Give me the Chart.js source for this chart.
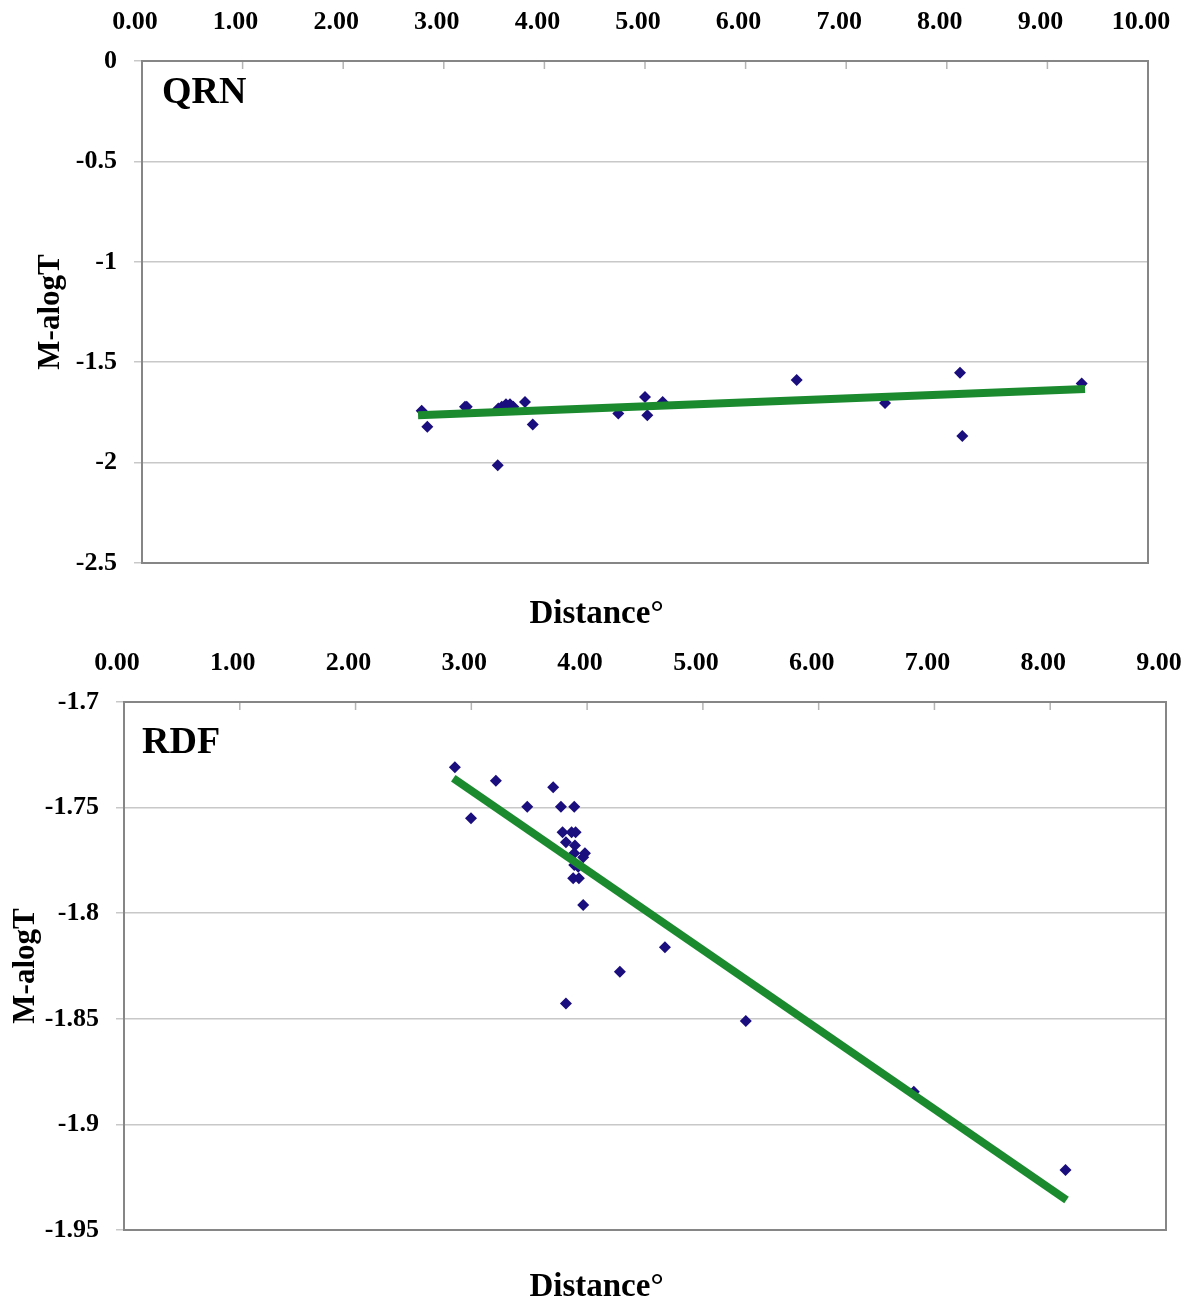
<!DOCTYPE html>
<html lang="en">
<head>
<meta charset="UTF-8">
<title>M-alogT vs Distance - QRN / RDF</title>
<script src="https://cdn.jsdelivr.net/npm/chart.js@4.4.1/dist/chart.umd.min.js"></script>
<style>
  html, body { margin: 0; padding: 0; background: #fff; }
  .panel { position: absolute; left: 0; width: 1193px; }
  #qrnBox { top: 0; height: 631px; }
  #rdfBox { top: 631px; height: 673px; }
</style>
</head>
<body>
<div class="panel" id="qrnBox"><canvas id="qrnChart"></canvas></div>
<div class="panel" id="rdfBox"><canvas id="rdfChart"></canvas></div>
<script>
// QRN station
const qrnDistance = [2.780, 2.836, 3.211, 3.228, 3.542, 3.576, 3.618, 3.658, 3.691, 3.807, 3.884,
                     3.536, 4.735, 5.000, 5.023, 5.176, 6.508, 7.386, 8.131, 8.154, 9.341];
const qrnMalogT = [-1.742, -1.822, -1.722, -1.722, -1.730, -1.722, -1.710, -1.710, -1.722, -1.698, -1.810,
                   -2.013, -1.755, -1.673, -1.764, -1.698, -1.589, -1.703, -1.553, -1.867, -1.606];
const qrnFitDistance = [2.744, 9.374];
const qrnFitMalogT = [-1.764, -1.634];
const qrnXTicks = [0, 1, 2, 3, 4, 5, 6, 7, 8, 9, 10];
const qrnXTickLabels = ['0.00', '1.00', '2.00', '3.00', '4.00', '5.00', '6.00', '7.00', '8.00', '9.00', '10.00'];
const qrnYTicks = [-2.5, -2, -1.5, -1, -0.5, 0];
const qrnYTickLabels = ['-2.5', '-2', '-1.5', '-1', '-0.5', '0'];

// RDF station
const rdfDistance = [2.858, 2.997, 3.212, 3.483, 3.707, 3.774, 3.889, 3.788, 3.866, 3.901, 3.817, 3.895, 3.889,
                     3.981, 3.966, 3.889, 3.923, 3.880, 3.929, 3.966, 4.283, 4.672, 3.817, 5.371, 6.822, 8.132];
const rdfMalogT = [-1.7309, -1.7551, -1.7373, -1.7496, -1.7404, -1.7496, -1.7496, -1.7617, -1.7617, -1.7617,
                   -1.7664, -1.7680, -1.7716, -1.7716, -1.7735, -1.7772, -1.7780, -1.7835, -1.7835, -1.7961,
                   -1.8277, -1.8161, -1.8427, -1.8510, -1.8845, -1.9216];
const rdfFitDistance = [2.844, 8.141];
const rdfFitMalogT = [-1.7361, -1.9358];
const rdfXTicks = [0, 1, 2, 3, 4, 5, 6, 7, 8, 9];
const rdfXTickLabels = ['0.00', '1.00', '2.00', '3.00', '4.00', '5.00', '6.00', '7.00', '8.00', '9.00'];
const rdfYTicks = [-1.95, -1.9, -1.85, -1.8, -1.75, -1.7];
const rdfYTickLabels = ['-1.95', '-1.9', '-1.85', '-1.8', '-1.75', '-1.7'];

const serif = "'Liberation Serif', 'Times New Roman', serif";

// plot frame plus the short tick marks hanging inside from the top axis
const frameAndTicks = {
    id: 'frameAndTicks',
    beforeDatasetsDraw(chart) {
        const { ctx, chartArea: a, scales } = chart;
        ctx.save();
        ctx.strokeStyle = '#b4b4b4';
        ctx.lineWidth = 1.5;
        scales.x.ticks.forEach(t => {
            const px = scales.x.getPixelForValue(t.value);
            ctx.beginPath();
            ctx.moveTo(px, a.top);
            ctx.lineTo(px, a.top + 8);
            ctx.stroke();
        });
        ctx.strokeStyle = '#868686';
        ctx.lineWidth = 2;
        ctx.strokeRect(a.left, a.top, a.right - a.left, a.bottom - a.top);
        ctx.restore();
    }
};

// station name in the upper left corner of the plot
const panelLabel = {
    id: 'panelLabel',
    afterDraw(chart, args, opts) {
        const { ctx, chartArea: a } = chart;
        ctx.save();
        ctx.font = `bold ${opts.size}px ${serif}`;
        ctx.fillStyle = '#000';
        ctx.textBaseline = 'alphabetic';
        ctx.fillText(opts.text, a.left + opts.dx, a.top + opts.dy);
        ctx.restore();
    }
};

function makePanel(canvasId, p) {
    const points = p.x.map((x, i) => ({ x: x, y: p.y[i] }));
    const fit = p.fitX.map((x, i) => ({ x: x, y: p.fitY[i] }));
    const tickFont = { family: serif, size: 26, weight: 'bold' };

    return new Chart(document.getElementById(canvasId), {
        type: 'scatter',
        data: {
            datasets: [
                {
                    type: 'line',
                    data: fit,
                    borderColor: '#1b8a2f',
                    borderWidth: 8,
                    borderCapStyle: 'butt',
                    pointRadius: 0,
                    fill: false,
                    order: 0
                },
                {
                    data: points,
                    pointStyle: 'rectRot',
                    pointRadius: 6,
                    backgroundColor: '#1a0d7d',
                    borderColor: '#1a0d7d',
                    borderWidth: 0,
                    order: 1
                }
            ]
        },
        options: {
            responsive: true,
            maintainAspectRatio: false,
            animation: false,
            layout: { padding: 0 },
            plugins: {
                legend: { display: false },
                tooltip: { enabled: false },
                title: {
                    display: true,
                    position: 'bottom',
                    text: 'Distance°',
                    color: '#000',
                    font: { family: serif, size: 33, weight: 'bold', lineHeight: 1 },
                    padding: { top: p.titleGap, bottom: 0 }
                },
                panelLabel: { text: p.name, dx: p.nameDx, dy: p.nameDy, size: 38 }
            },
            scales: {
                x: {
                    type: 'linear',
                    position: 'top',
                    min: p.xTicks[0],
                    max: p.xTicks[p.xTicks.length - 1],
                    afterFit: s => { s.height = p.top; },
                    afterBuildTicks: s => { s.ticks = p.xTicks.map(v => ({ value: v })); },
                    grid: { display: false, drawTicks: true, tickLength: 23 },
                    border: { display: false },
                    ticks: {
                        padding: 0,
                        labelOffset: -7,
                        autoSkip: false,
                        maxRotation: 0,
                        color: '#000',
                        font: tickFont,
                        callback: (v, i) => p.xLabels[i]
                    }
                },
                y: {
                    type: 'linear',
                    min: p.yTicks[0],
                    max: p.yTicks[p.yTicks.length - 1],
                    afterFit: s => { s.width = p.left; },
                    afterBuildTicks: s => { s.ticks = p.yTicks.map(v => ({ value: v })); },
                    grid: { color: '#c8c8c8', lineWidth: 1.5, tickLength: 8 },
                    border: { display: false },
                    ticks: {
                        padding: 17,
                        color: '#000',
                        font: tickFont,
                        callback: (v, i) => p.yLabels[i]
                    },
                    title: {
                        display: true,
                        text: 'M-alogT',
                        color: '#000',
                        font: { family: serif, size: 31, weight: 'bold' },
                        padding: { top: p.yTitlePad, bottom: 0 }
                    }
                },
                // empty right-hand margin so the bottom title stays centred on the page
                yMargin: {
                    type: 'linear',
                    position: 'right',
                    afterFit: s => { s.width = p.padRight; },
                    grid: { display: false, drawTicks: false },
                    border: { display: false },
                    ticks: { display: false }
                }
            }
        },
        plugins: [frameAndTicks, panelLabel]
    });
}

makePanel('qrnChart', {
    name: 'QRN', nameDx: 20, nameDy: 42,
    x: qrnDistance, y: qrnMalogT, fitX: qrnFitDistance, fitY: qrnFitMalogT,
    xTicks: qrnXTicks, xLabels: qrnXTickLabels, yTicks: qrnYTicks, yLabels: qrnYTickLabels,
    top: 61, left: 142, padRight: 45, titleGap: 35, yTitlePad: 32
});

makePanel('rdfChart', {
    name: 'RDF', nameDx: 18, nameDy: 51,
    x: rdfDistance, y: rdfMalogT, fitX: rdfFitDistance, fitY: rdfFitMalogT,
    xTicks: rdfXTicks, xLabels: rdfXTickLabels, yTicks: rdfYTicks, yLabels: rdfYTickLabels,
    top: 71, left: 124, padRight: 27, titleGap: 41, yTitlePad: 7
});
</script>
</body>
</html>
